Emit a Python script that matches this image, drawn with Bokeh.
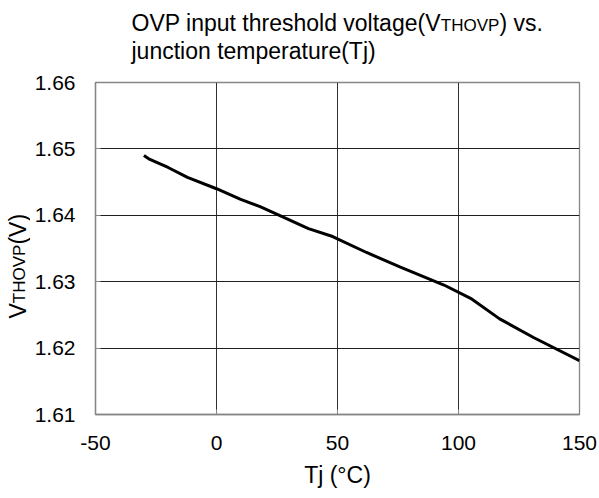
import math
from bokeh.plotting import figure
from bokeh.layouts import column, row
from bokeh.models import Label, Range1d, FixedTicker
from bokeh.embed import file_html
from bokeh.resources import INLINE

# data
tj = [-30, -28, -20, -12, 0, 10, 18, 26, 38, 48, 62, 76, 90, 94, 105, 117, 131, 150]
vthovp = [1.6490, 1.6485, 1.6472, 1.6457, 1.6440, 1.6424, 1.6413, 1.6400, 1.6380,
          1.6368, 1.6344, 1.6322, 1.6301, 1.6295, 1.6275, 1.6244, 1.6216, 1.6181]
x_ticks = [-50, 0, 50, 100, 150]
y_ticks = [1.61, 1.62, 1.63, 1.64, 1.65, 1.66]
title_line1 = ["OVP input threshold voltage(V", "THOVP", ") vs."]
title_line2 = "junction temperature(Tj)"
y_title = ["V", "THOVP", "(V)"]
x_title = "Tj (°C)"

FONT = "Liberation Sans"
TICK_FS = 21
TITLE_FS = 23
SUB_FS = 17

# Arial / Liberation Sans advance widths (1/1000 em)
W = {' ': 278, 'O': 778, 'V': 667, 'P': 667, 'i': 222, 'n': 556, 'p': 556, 'u': 556,
     't': 278, 'h': 556, 'r': 333, 'e': 556, 's': 500, 'o': 556, 'l': 222, 'd': 556,
     'v': 500, 'a': 556, 'g': 556, '(': 333, ')': 333, '.': 278, 'T': 611, 'H': 722,
     'j': 222, 'c': 500, 'm': 833}


def tw(s, size):
    return sum(W.get(c, 556) for c in s) * size / 1000.0


def mid_off(size):
    # distance from the alphabetic baseline to the middle of the text box
    return (0.905 - 0.5 * (0.905 + 0.212)) * size


TOTAL_W, TOTAL_H = 599, 498
TITLE_H = 66
YLAB_W = 30


def blank_fig(w, h):
    f = figure(title=None, frame_width=w, frame_height=h, output_backend="svg",
               toolbar_location=None,
               x_range=Range1d(0, w), y_range=Range1d(0, h),
               x_axis_location=None, y_axis_location=None,
               min_border=0, min_border_left=0, min_border_right=0,
               min_border_top=0, min_border_bottom=0)
    f.outline_line_color = None
    f.grid.visible = False
    f.background_fill_color = "white"
    f.border_fill_color = "white"
    return f


sizes = [TITLE_FS, SUB_FS, TITLE_FS]

# ---- title figure ----
tf = blank_fig(TOTAL_W, TITLE_H)
x = 131
base1 = TITLE_H - 30.5
for txt, fs in zip(title_line1, sizes):
    tf.add_layout(Label(x=x, y=base1 + mid_off(fs), text=txt, text_font=FONT,
                        text_font_size=f"{fs}px", text_color="black",
                        text_baseline="middle", text_align="left"))
    x += tw(txt, fs)
base2 = TITLE_H - 58
tf.add_layout(Label(x=131, y=base2 + mid_off(TITLE_FS), text=title_line2, text_font=FONT,
                    text_font_size=f"{TITLE_FS}px", text_color="black",
                    text_baseline="middle", text_align="left"))

# ---- y-axis title figure (rotated pieces, each anchored at its own centre) ----
body_h = TOTAL_H - TITLE_H
yf = blank_fig(YLAB_W, body_h)
yy = TOTAL_H - 302
for txt, fs in zip(y_title, sizes):
    w = tw(txt, fs)
    yf.add_layout(Label(x=25 - mid_off(fs), y=yy + w / 2.0, text=txt, text_font=FONT,
                        text_font_size=f"{fs}px", text_color="black",
                        text_baseline="middle", text_align="center",
                        angle=math.pi / 2))
    yy += w

# ---- main plot ----
FRAME_L, FRAME_R, FRAME_T, FRAME_B = 95, 579, 82, 414
p = figure(title=None, width=TOTAL_W - YLAB_W, height=body_h, output_backend="svg",
           toolbar_location=None,
           x_range=Range1d(-50, 150), y_range=Range1d(1.61, 1.66),
           min_border_left=FRAME_L - YLAB_W, min_border_right=TOTAL_W - FRAME_R,
           min_border_top=FRAME_T - TITLE_H, min_border_bottom=TOTAL_H - FRAME_B)
p.background_fill_color = "white"
p.border_fill_color = "white"
p.outline_line_color = "#868686"
p.outline_line_width = 1.3

p.line(tj, vthovp, line_color="black", line_width=3)

for ax in (p.xaxis[0], p.yaxis[0]):
    ax.axis_line_color = "#868686"
    ax.axis_line_width = 1.3
    ax.major_tick_in = 5
    ax.major_tick_out = 0
    ax.minor_tick_line_color = None
    ax.major_tick_line_color = "#868686"
    ax.major_label_text_font = FONT
    ax.major_label_text_font_size = f"{TICK_FS}px"
    ax.major_label_text_color = "black"

p.xaxis[0].ticker = FixedTicker(ticks=x_ticks)
p.yaxis[0].ticker = FixedTicker(ticks=y_ticks)
p.yaxis[0].major_label_overrides = {t: f"{t:.2f}" for t in y_ticks}
p.xaxis[0].major_label_overrides = {t: str(t) for t in x_ticks}
p.xaxis[0].major_label_standoff = 21
p.yaxis[0].major_label_standoff = 20

p.xaxis[0].axis_label = x_title
p.xaxis[0].axis_label_text_font = FONT
p.xaxis[0].axis_label_text_font_size = f"{TITLE_FS}px"
p.xaxis[0].axis_label_text_font_style = "normal"
p.xaxis[0].axis_label_text_color = "black"
p.xaxis[0].axis_label_standoff = 9

p.xgrid.grid_line_color = "#303030"
p.ygrid.grid_line_color = "#202020"

layout = column(tf, row(yf, p, spacing=0), spacing=0)

open("out.html", "w").write(file_html(layout, INLINE))
